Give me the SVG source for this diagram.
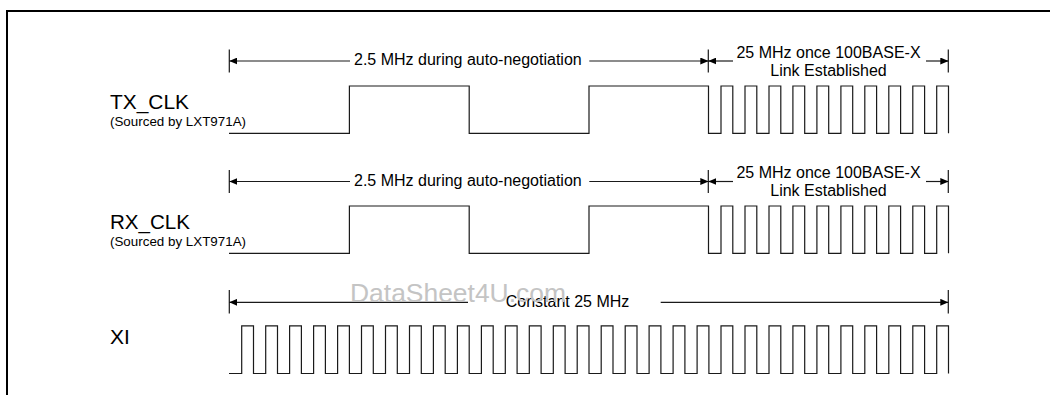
<svg xmlns="http://www.w3.org/2000/svg" width="1050" height="395" viewBox="0 0 1050 395">
  <defs>
    <marker id="arr" markerWidth="8" markerHeight="7" refX="8" refY="3.5" orient="auto" markerUnits="userSpaceOnUse">
      <path d="M0,0 L8,3.5 L0,7 z" fill="#000"/>
    </marker>
    <path id="slowfast" d="M229,133.3 H349.4 V86 H469.2 V133.3 H589 V86 H708.5 V133.3 H721 V86 H732.8 V133.3 H745 V86 H756.8 V133.3 H769 V86 H780.8 V133.3 H792.9 V86 H804.7 V133.3 H816.9 V86 H828.7 V133.3 H840.9 V86 H852.7 V133.3 H864.8 V86 H876.6 V133.3 H888.8 V86 H900.6 V133.3 H912.8 V86 H924.6 V133.3 H936.7 V86 H948.5 V133.3"/>
  </defs>
  <style>
    .wave { fill: none; stroke: #1a1a1a; stroke-width: 1.2; }
    .dim { fill: none; stroke: #1a1a1a; stroke-width: 1.2; }
    .arrowed { marker-end: url(#arr); }
    .sig { font-family: "Liberation Sans", Arial, sans-serif; font-size: 21px; fill: #000; }
    .sub { font-family: "Liberation Sans", Arial, sans-serif; font-size: 13px; fill: #000; }
    .lbl { font-family: "Liberation Sans", Arial, sans-serif; font-size: 16px; fill: #000; }
    .wm { font-family: "Liberation Sans", Arial, sans-serif; font-size: 26px; fill: #c4c4c4; }
  </style>
  <rect width="1050" height="395" fill="#fff"/>
  <g id="border">
    <path d="M7,395 V11 H1050" fill="none" stroke="#000" stroke-width="2"/>
  </g>

  <g id="tx_clk">
    <text class="sig" x="110" y="109" textLength="79" lengthAdjust="spacingAndGlyphs">TX_CLK</text>
    <text class="sub" x="110" y="125.5" textLength="136" lengthAdjust="spacingAndGlyphs">(Sourced by LXT971A)</text>
    <use href="#slowfast" class="wave"/>
  </g>

  <g id="rx_clk">
    <text class="sig" x="110" y="229" textLength="80" lengthAdjust="spacingAndGlyphs">RX_CLK</text>
    <text class="sub" x="110" y="246" textLength="136" lengthAdjust="spacingAndGlyphs">(Sourced by LXT971A)</text>
    <use href="#slowfast" class="wave" transform="translate(0,120)"/>
  </g>

  <g id="xi">
    <text class="sig" x="110" y="343.5">XI</text>
    <path class="wave" d="M229,373.5 H241.7 V325.8 H253.5 V373.5 H265.7 V325.8 H277.5 V373.5 H289.6 V325.8 H301.4 V373.5 H313.6 V325.8 H325.4 V373.5 H337.6 V325.8 H349.4 V373.5 H361.5 V325.8 H373.3 V373.5 H385.5 V325.8 H397.3 V373.5 H409.5 V325.8 H421.3 V373.5 H433.4 V325.8 H445.2 V373.5 H457.4 V325.8 H469.2 V373.5 H481.4 V325.8 H493.2 V373.5 H505.3 V325.8 H517.1 V373.5 H529.3 V325.8 H541.1 V373.5 H553.3 V325.8 H565.1 V373.5 H577.2 V325.8 H589 V373.5 H601.2 V325.8 H613 V373.5 H625.2 V325.8 H637 V373.5 H649.1 V325.8 H660.9 V373.5 H673.1 V325.8 H684.9 V373.5 H697.1 V325.8 H708.9 V373.5 H721 V325.8 H732.8 V373.5 H745 V325.8 H756.8 V373.5 H769 V325.8 H780.8 V373.5 H792.9 V325.8 H804.7 V373.5 H816.9 V325.8 H828.7 V373.5 H840.9 V325.8 H852.7 V373.5 H864.8 V325.8 H876.6 V373.5 H888.8 V325.8 H900.6 V373.5 H912.8 V325.8 H924.6 V373.5 H936.7 V325.8 H948.5 V373.5"/>
  </g>

  <g id="connectors">
    <!-- TX_CLK dimensions -->
    <path class="dim" d="M229.3,49.5 V72.5 M708.3,49.5 V72.5 M948.3,49.5 V72.5"/>
    <path class="dim arrowed" d="M350,61 H229.3"/>
    <path class="dim arrowed" d="M589.3,61 H708.3"/>
    <path class="dim arrowed" d="M733,61 H708.3"/>
    <path class="dim arrowed" d="M926,61 H948.3"/>
    <!-- RX_CLK dimensions -->
    <path class="dim" d="M229.3,170 V193 M708.3,170 V193 M948.3,170 V193"/>
    <path class="dim arrowed" d="M350,181.5 H229.3"/>
    <path class="dim arrowed" d="M589.3,181.5 H708.3"/>
    <path class="dim arrowed" d="M733,181.5 H708.3"/>
    <path class="dim arrowed" d="M926,181.5 H948.3"/>
    <!-- XI dimension -->
    <path class="dim" d="M229.3,290 V313.5 M948.3,290 V313.5"/>
    <path class="dim arrowed" d="M468,302.3 H229.3"/>
    <path class="dim arrowed" d="M660.7,302.3 H948.3"/>
  </g>

  <g id="labels">
    <text class="lbl" x="354" y="65">2.5 MHz during auto-negotiation</text>
    <text class="lbl" x="828.5" y="57.5" text-anchor="middle">25 MHz once 100BASE-X</text>
    <text class="lbl" x="828.5" y="76" text-anchor="middle">Link Established</text>
    <text class="lbl" x="354" y="185.5">2.5 MHz during auto-negotiation</text>
    <text class="lbl" x="828.5" y="177.5" text-anchor="middle">25 MHz once 100BASE-X</text>
    <text class="lbl" x="828.5" y="196" text-anchor="middle">Link Established</text>
    <text class="lbl" x="505.7" y="306.7">Constant 25 MHz</text>
  </g>

  <g id="watermark">
    <text class="wm" x="350" y="301.7" textLength="216" lengthAdjust="spacingAndGlyphs">DataSheet4U.com</text>
  </g>
</svg>
